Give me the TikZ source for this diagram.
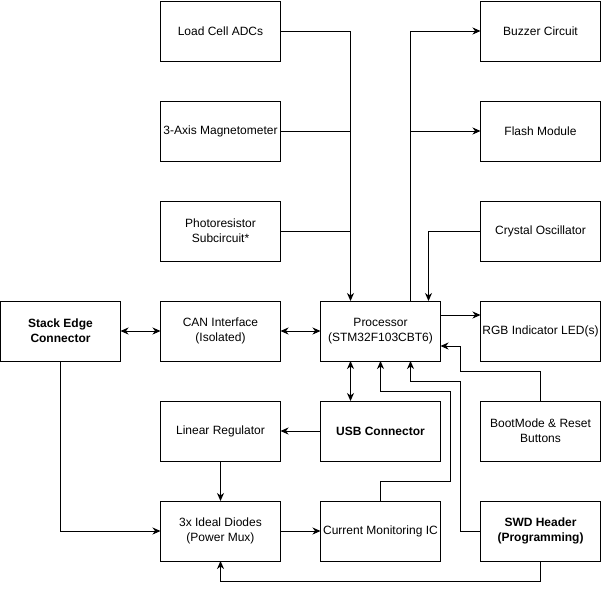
\documentclass[tikz,border=0pt]{standalone}
\usepackage{fontspec}
\setmainfont{Liberation Sans}
\usetikzlibrary{arrows.meta,calc}
\begin{document}
\begin{tikzpicture}[x=1pt,y=-1pt,
  blk/.style={draw,line width=1pt,minimum width=120pt,minimum height=60pt,
    inner sep=0pt,outer sep=0pt,align=center,
    font=\fontsize{12}{15}\selectfont},
  bblk/.style={blk,font=\fontsize{12}{15}\selectfont\bfseries},
  wire/.style={line width=1pt},
  arr/.style={wire,-{Stealth[length=8pt,width=7pt,inset=2.5pt]}},
  biarr/.style={wire,{Stealth[length=8pt,width=7pt,inset=2.5pt]}-{Stealth[length=8pt,width=7pt,inset=2.5pt]}}]
\useasboundingbox (0,0) rectangle (601,590);

% left column
\node[bblk] (stack) at (60.5,331) {Stack Edge\\Connector};

% second column
\node[blk] (load)  at (220.5,31)  {Load Cell ADCs};
\node[blk] (mag)   at (220.5,131) {3-Axis Magnetometer};
\node[blk] (photo) at (220.5,231) {Photoresistor\\Subcircuit*};
\node[blk] (can)   at (220.5,331) {CAN Interface\\(Isolated)};
\node[blk] (lin)   at (220.5,431) {Linear Regulator};
\node[blk] (dio)   at (220.5,531) {3x Ideal Diodes\\(Power Mux)};

% third column
\node[blk]  (proc) at (380.5,331) {Processor\\(STM32F103CBT6)};
\node[bblk] (usb)  at (380.5,431) {USB Connector};
\node[blk]  (cur)  at (380.5,531) {Current Monitoring IC};

% right column
\node[blk]  (buzz)  at (540.5,31)  {Buzzer Circuit};
\node[blk]  (flash) at (540.5,131) {Flash Module};
\node[blk]  (xtal)  at (540.5,231) {Crystal Oscillator};
\node[blk]  (rgb)   at (540.5,331) {RGB Indicator LED(s)};
\node[blk]  (boot)  at (540.5,431) {BootMode \& Reset\\Buttons};
\node[bblk] (swd)   at (540.5,531) {SWD Header\\(Programming)};

% sensor bus into the processor
\coordinate (busin)  at ($(proc.north west)+(30,0)$);
\coordinate (busout) at ($(proc.north west)+(90,0)$);
\draw[arr] (load.east) -| (busin);
\draw[wire] (mag.east) -- (mag.east -| busin);
\draw[wire] (photo.east) -- (photo.east -| busin);

% processor outputs
\draw[arr] (busout) |- (buzz.west);
\draw[arr] (flash.west -| busout) -- (flash.west);
\draw[arr] (xtal.west) -| ($(proc.north west)+(108,0)$);
\coordinate (rgbout) at ($(proc.north east)+(0,14)$);
\draw[arr] (rgbout) -- (rgbout -| rgb.west);

% control and debug lines
\draw[arr] (boot.north) -- ++(0,-30) -| ($(proc.south east)+(20,-15)$) -- ($(proc.south east)+(0,-15)$);
\draw[arr] (swd.west) -| ($(proc.south west)+(140,20)$) -| ($(proc.south west)+(90,0)$);
\draw[arr] (cur.north) -- ++(0,-20) -| ($(proc.south west)+(130,30)$) -| ($(proc.south west)+(60,0)$);

% communication links
\draw[biarr] (stack.east) -- (can.west);
\draw[biarr] (can.east) -- (proc.west);
\draw[biarr] ($(proc.south west)+(30,0)$) -- ($(usb.north west)+(30,0)$);

% power path
\draw[arr] (usb.west) -- (lin.east);
\draw[arr] (lin.south) -- (dio.north);
\draw[arr] (dio.east) -- (cur.west);
\draw[arr] (stack.south) |- (dio.west);
\draw[arr] (swd.south) -- ++(0,20) -| (dio.south);
\end{tikzpicture}
\end{document}
